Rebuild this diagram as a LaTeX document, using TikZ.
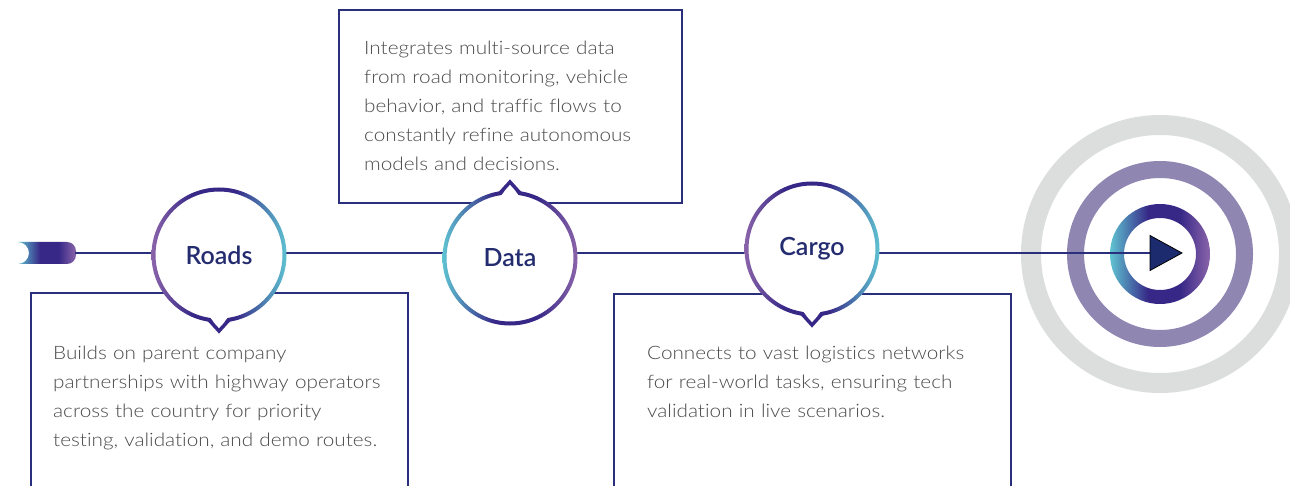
\documentclass[tikz,border=0pt]{standalone}
\usepackage{fontspec}
\setmainfont{Lato Light}[BoldFont=Lato Semibold]
\newfontfamily\blurbfont{Lato Light}[FakeStretch=1.12, Ligatures=CommonOff]
\usepackage{tikz}
\usetikzlibrary{positioning,calc}
\definecolor{navy}{RGB}{42,47,125}
\definecolor{inkblue}{RGB}{36,44,112}
\definecolor{textgray}{RGB}{75,75,75}
\definecolor{ringteal}{RGB}{95,195,210}
\definecolor{ringdeep}{RGB}{55,40,135}
\definecolor{ringlilac}{RGB}{138,100,170}
\definecolor{targetgray}{RGB}{220,222,222}
\definecolor{targetlilac}{RGB}{143,134,178}
\definecolor{arrowblue}{RGB}{28,42,110}

% ring gradients, lilac -> deep -> teal and back
\pgfdeclarehorizontalshading{lilacteal}{100bp}{color(0bp)=(ringlilac); color(25bp)=(ringlilac);
  color(40bp)=(ringdeep); color(56bp)=(ringdeep); color(75bp)=(ringteal); color(100bp)=(ringteal)}
\pgfdeclarehorizontalshading{teallilac}{100bp}{color(0bp)=(ringteal); color(25bp)=(ringteal);
  color(44bp)=(ringdeep); color(60bp)=(ringdeep); color(75bp)=(ringlilac); color(100bp)=(ringlilac)}

% gradient ring round a hub: centre, shading
\newcommand{\hubring}[2]{%
  \shade[shading=#2, even odd rule]
    (#1) circle[radius=67.5] circle[radius=63.5];}
% little pointer on a hub: centre, direction
\newcommand{\hubtail}[2]{%
  \fill[white] ($(#1)+(#2-10:61)$) -- ($(#1)+(#2:74)$) -- ($(#1)+(#2+10:61)$) -- cycle;
  \draw[ringdeep, line width=3.5pt, line join=miter]
    ($(#1)+(#2-9:65.5)$) -- ($(#1)+(#2:76)$) -- ($(#1)+(#2+9:65.5)$);}

\begin{document}
\begin{tikzpicture}[x=1pt, y=-1pt,
  panel/.style={draw=navy, line width=2pt, fill=white, anchor=north west, inner sep=0pt},
  hub/.style={circle, fill=white, minimum size=131pt, inner sep=0pt, font=\fontsize{25}{25}\selectfont\bfseries, text=inkblue},
  blurb/.style={anchor=base west, inner sep=0pt, align=left, text width=420pt, text=textgray, font=\blurbfont\fontsize{18.5}{29}\selectfont}]
\fill[white] (0,0) rectangle (1290,486);
\useasboundingbox (0,0) rectangle (1290,486);

% target rings
\coordinate (goal) at (1160,254);
\draw[targetgray, line width=20pt] (goal) circle[radius=129];
\draw[targetlilac, line width=17pt] (goal) circle[radius=84.5];
\shade[shading=teallilac, even odd rule]
  (goal) circle[radius=50] circle[radius=36];

% start tab and main line
\shade[shading=teallilac]
  (18,242) -- (67,242) arc[start angle=-90, end angle=0, radius=9] -- (76,255)
  arc[start angle=0, end angle=90, radius=9] -- (18,264)
  arc[start angle=90, end angle=-90, radius=11] -- cycle;
\coordinate (start) at (75,253);
\coordinate (aim) at (1150,253);
\draw[navy, line width=2.5pt] (start) -- (aim);

% text panels
\node[panel, minimum width=377pt, minimum height=205pt] (roadsbox) at (30,292) {};
\node[panel, minimum width=343pt, minimum height=193pt] (databox) at (338,9) {};
\node[panel, minimum width=397pt, minimum height=205pt] (cargobox) at (613,293) {};

% hubs
\node[hub] (roads) at (219,255) {Roads};
\node[hub] (data) at (510,258) {Data};
\node[hub] (cargo) at (812,249) {Cargo};
\hubring{roads.center}{lilacteal}
\hubring{data.center}{teallilac}
\hubring{cargo.center}{lilacteal}
\hubtail{roads.center}{90}
\hubtail{data.center}{-90}
\hubtail{cargo.center}{90}

% arrow head in the target
\filldraw[fill=arrowblue, draw=black, line width=0.8pt]
  (aim) ++(0,-17.5) -- ++(32,17.5) -- ++(-32,17.5) -- cycle;

% panel texts
\node[blurb] (datatext) at (364,55) {Integrates multi-source data\\from road monitoring, vehicle\\behavior, and traffic flows to\\constantly refine autonomous\\models and decisions.};
\node[blurb] (roadstext) at (53,359) {Builds on parent company\\partnerships with highway operators\\across the country for priority\\testing, validation, and demo routes.};
\node[blurb] (cargotext) at (647,359) {Connects to vast logistics networks\\for real-world tasks, ensuring tech\\validation in live scenarios.};
\end{tikzpicture}
\end{document}
